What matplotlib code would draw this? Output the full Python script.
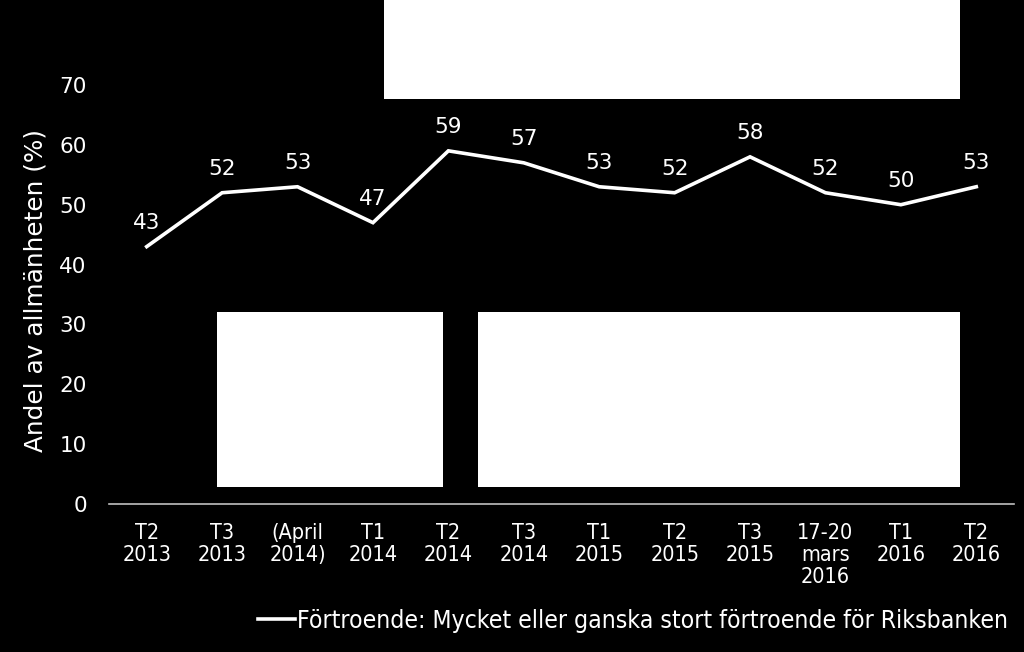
import matplotlib
matplotlib.use("Agg")
import matplotlib.pyplot as plt
from matplotlib.patches import Rectangle

categories = ["T2\n2013", "T3\n2013", "(April\n2014)", "T1\n2014", "T2\n2014", "T3\n2014",
              "T1\n2015", "T2\n2015", "T3\n2015", "17-20\nmars\n2016", "T1\n2016", "T2\n2016"]
values = [43, 52, 53, 47, 59, 57, 53, 52, 58, 52, 50, 53]
series_name = "Förtroende: Mycket eller ganska stort förtroende för Riksbanken"
y_label = "Andel av allmänheten (%)"
y_ticks = [0, 10, 20, 30, 40, 50, 60, 70]

W, H = 1024, 652
fig = plt.figure(figsize=(W / 100, H / 100), dpi=100, facecolor="black")
ax = fig.add_axes([109 / W, 1 - 504 / H, (1014 - 109) / W, (504 - 85) / H], facecolor="black")

x = list(range(len(values)))
line, = ax.plot(x, values, color="white", lw=2.6, solid_joinstyle="miter")
for xi, v in zip(x, values):
    ax.annotate(str(v), (xi, v), xytext=(0, 10), textcoords="offset points",
                ha="center", va="bottom", color="white", fontsize=15.5, family="DejaVu Sans")

ax.set_xlim(-0.5, len(values) - 0.5)
ax.set_ylim(0, 70)
ax.set_yticks(y_ticks)
ax.set_yticklabels([str(t) for t in y_ticks], color="white", fontsize=15.5)
ax.set_xticks(x)
ax.set_xticklabels(categories, color="white", fontsize=15.5, fontstretch="condensed",
                   linespacing=1.12, va="top")
ax.tick_params(axis="both", length=0)
ax.tick_params(axis="y", pad=16)
ax.tick_params(axis="x", pad=14)
for s in ["top", "right", "left"]:
    ax.spines[s].set_visible(False)
ax.spines["bottom"].set_color("#bfbfbf")
ax.spines["bottom"].set_linewidth(1.2)

ax.set_ylabel(y_label, color="white", fontsize=17.8)
ax.yaxis.set_label_coords(-73 / (1014 - 109), (504 - 291) / (504 - 85))
ax.yaxis.label.set_va("center")

leg = fig.legend([line], [series_name], loc="center right", bbox_to_anchor=(1008 / W, 1 - 621 / H),
                 frameon=False, handlelength=1.5, handletextpad=0.1,
                 borderaxespad=0, borderpad=0, prop={"stretch": "condensed", "size": 17.7})
for t in leg.get_texts():
    t.set_color("white")

# blanked annotation boxes
for (x0, y0, x1, y1) in [(384, 0, 960, 99), (217, 312, 443, 487), (478, 312, 960, 487)]:
    fig.patches.append(Rectangle((x0 / W, 1 - y1 / H), (x1 - x0) / W, (y1 - y0) / H,
                                 transform=fig.transFigure, facecolor="white", edgecolor="none"))

fig.savefig("out.png", dpi=100, facecolor="black")
